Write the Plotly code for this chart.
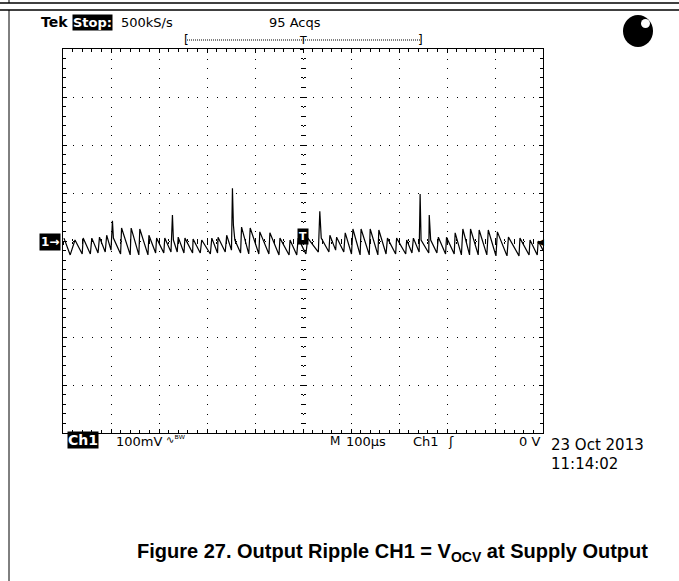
import plotly.graph_objects as go

# Ch1 ripple trace: time in us (0 = trigger), level in mV
time_us = [-498, -485, -475, -460, -458, -443, -440, -427, -424, -412, -409, -400, -397, -395,
           -380, -378, -360, -358, -342, -340, -323, -321, -307, -305, -290, -288, -275, -272, -270,
           -262, -260, -248, -246, -230, -229, -214, -211, -193, -190, -178, -177, -162, -159,
           -149, -147, -145, -142, -130, -128, -113, -110, -92, -90, -71, -69, -50, -48, -29, -27,
           -13, -10, 6, 10, 32, 35, 38, 54, 56, 68, 70, 85, 88, 101, 104, 119, 121, 138, 140,
           156, 158, 173, 176, 193, 195, 214, 216, 227, 230, 242, 244, 246, 262, 263, 266,
           279, 282, 297, 299, 315, 317, 330, 333, 347, 349, 365, 367, 383, 386, 402, 405,
           425, 428, 450, 452, 471, 473, 488, 490, 500]
ch1_mv = [6, -29, 2, -27, 6, -27, 6, -25, 8, -23, 12, -19, 42, 6,
          -27, 27, -29, 27, -29, 25, -29, 12, -25, 6, -25, 6, -23, 54, 2,
          -23, 8, -25, 6, -25, 4, -25, 2, -27, 6, -25, 8, -23, 12,
          -19, 110, 33, 2, -25, 29, -27, 27, -27, 19, -27, 17, -29, 6, -29, 2,
          -29, 6, -27, 6, -23, 62, 6, -23, 12, -19, 8, -23, 17, -27, 25, -29, 25, -29, 25,
          -29, 23, -27, 6, -27, 6, -27, 2, -25, 6, -23, 98, 2, -25, 54, 2,
          -25, 8, -27, 8, -27, 17, -29, 25, -29, 25, -29, 23, -29, 23, -31, 19,
          -31, 8, -31, 6, -29, 2, -29, 0, -19]

x_range = [-500, 500]   # 10 div x 100 us
y_range = [-400, 400]   # 8 div x 100 mV

# screen geometry (pixels)
L, T, W, H = 63, 49, 480, 384


def px(x):
    return (x - L) / W


def py(y):
    return (T + H - y) / H


SCOPE_FONT = "DejaVu Sans"

fig = go.Figure()
fig.add_trace(go.Scatter(x=time_us, y=ch1_mv, mode="lines",
                         line=dict(color="black", width=1.2), showlegend=False, hoverinfo="skip"))
# empty traces so the centre-cross tick axes get drawn
for xa, ya in [("x2", "y"), ("x3", "y"), ("x", "y2"), ("x", "y3")]:
    fig.add_trace(go.Scatter(x=[None], y=[None], xaxis=xa, yaxis=ya, showlegend=False, hoverinfo="skip"))

grid = dict(showgrid=True, gridcolor="black", gridwidth=1, griddash="1px,8.6px",
            zeroline=False, showline=True, linecolor="black", linewidth=1, mirror="ticks",
            ticks="inside", ticklen=4, tickcolor="black", showticklabels=False,
            minor=dict(ticks="inside", ticklen=3, tickcolor="black", showgrid=False))
fig.update_xaxes(range=x_range, dtick=100, tick0=0, **grid)
fig.update_xaxes(minor_dtick=20)
fig.update_yaxes(range=y_range, dtick=100, tick0=0, **grid)
fig.update_yaxes(minor_dtick=20)

centre = dict(anchor="free", position=0.5, showgrid=False, zeroline=False, showline=False,
              showticklabels=False, ticklen=3, tickcolor="black")
fig.update_layout(
    xaxis2=dict(overlaying="x", range=x_range, dtick=100, tick0=0, ticks="inside",
                minor=dict(dtick=20, ticks="inside", ticklen=2, tickcolor="black"), **centre),
    xaxis3=dict(overlaying="x", range=x_range, dtick=100, tick0=0, ticks="outside",
                minor=dict(dtick=20, ticks="outside", ticklen=2, tickcolor="black"), **centre),
    yaxis2=dict(overlaying="y", range=y_range, dtick=100, tick0=0, ticks="inside",
                minor=dict(dtick=20, ticks="inside", ticklen=2, tickcolor="black"), **centre),
    yaxis3=dict(overlaying="y", range=y_range, dtick=100, tick0=0, ticks="outside",
                minor=dict(dtick=20, ticks="outside", ticklen=2, tickcolor="black"), **centre),
)


def label(x, y, text, size=13, color="black", bg=None, anchor="left", bold=False, pad=0,
          family=SCOPE_FONT):
    if bold:
        text = "<b>" + text + "</b>"
    fig.add_annotation(x=px(x), y=py(y), xref="paper", yref="paper", text=text, showarrow=False,
                       xanchor=anchor, yanchor="middle", bgcolor=bg, borderpad=pad,
                       font=dict(family=family, size=size, color=color))


label(40, 22, "Tek", size=14, bold=True)
label(72, 22, "Stop:", color="white", bg="black", bold=True)
label(120, 22, "500kS/s")
label(268, 22, "95 Acqs")
label(183, 40, "[", size=12)
label(303, 40, "T", size=11, anchor="center")
label(424, 40, "]", size=12, anchor="right")

label(67, 440, "Ch1", size=14, color="white", bg="black", bold=True)
label(115, 441, "100mV")
label(165, 439, "∿ᴮᵂ", size=10)
label(329, 441, "M", size=12)
label(345, 441, "100µs")
label(412, 441, "Ch1")
label(447, 441, "ʃ", size=13)
label(541, 441, "0 V", anchor="right")
label(550, 445, "23 Oct 2013", size=15)
label(550, 464, "11:14:02", size=15)

label(61, 242, "1→", size=12, color="white", bg="black", anchor="right", bold=True, pad=1)
label(303, 236, "T", size=11, color="white", bg="black", anchor="center", bold=True, pad=1)
label(545, 242, "◀", size=9, anchor="right")

fig.add_annotation(x=px(392), y=py(552), xref="paper", yref="paper", showarrow=False,
                   xanchor="center", yanchor="middle",
                   text="<b>Figure 27. Output Ripple CH1 = V<sub>OCV</sub> at Supply Output</b>",
                   font=dict(family="Liberation Sans", size=20, color="black"))

# page rules and the record-view bracket
fig.add_shape(type="line", x0=px(0), x1=px(679), y0=py(3), y1=py(3), line=dict(color="black", width=1.5))
fig.add_shape(type="line", x0=px(0), x1=px(679), y0=py(10), y1=py(10), line=dict(color="black", width=1.5))
fig.add_shape(type="line", x0=px(9), x1=px(9), y0=py(10), y1=py(581), line=dict(color="black", width=1))
fig.add_shape(type="line", x0=px(9), x1=px(9), y0=py(0), y1=py(3), line=dict(color="black", width=1))
fig.add_shape(type="line", x0=px(187), x1=px(420), y0=py(40), y1=py(40),
              line=dict(color="black", width=1, dash="1px,1px"))
for s in fig.layout.shapes:
    s.xref = "paper"
    s.yref = "paper"

fig.add_shape(type="circle", xref="paper", yref="paper", x0=px(623), x1=px(653), y0=py(47), y1=py(15),
              fillcolor="black", line=dict(color="black", width=0))
fig.add_shape(type="circle", xref="paper", yref="paper", x0=px(641), x1=px(650), y0=py(28), y1=py(19),
              fillcolor="white", line=dict(color="white", width=0))

fig.update_layout(width=679, height=581, margin=dict(l=L, r=679 - L - W, t=T, b=581 - T - H),
                  paper_bgcolor="white", plot_bgcolor="white", showlegend=False)

fig.write_html("out.html", config={"displayModeBar": False},
               post_script="document.body.style.margin='0';")
